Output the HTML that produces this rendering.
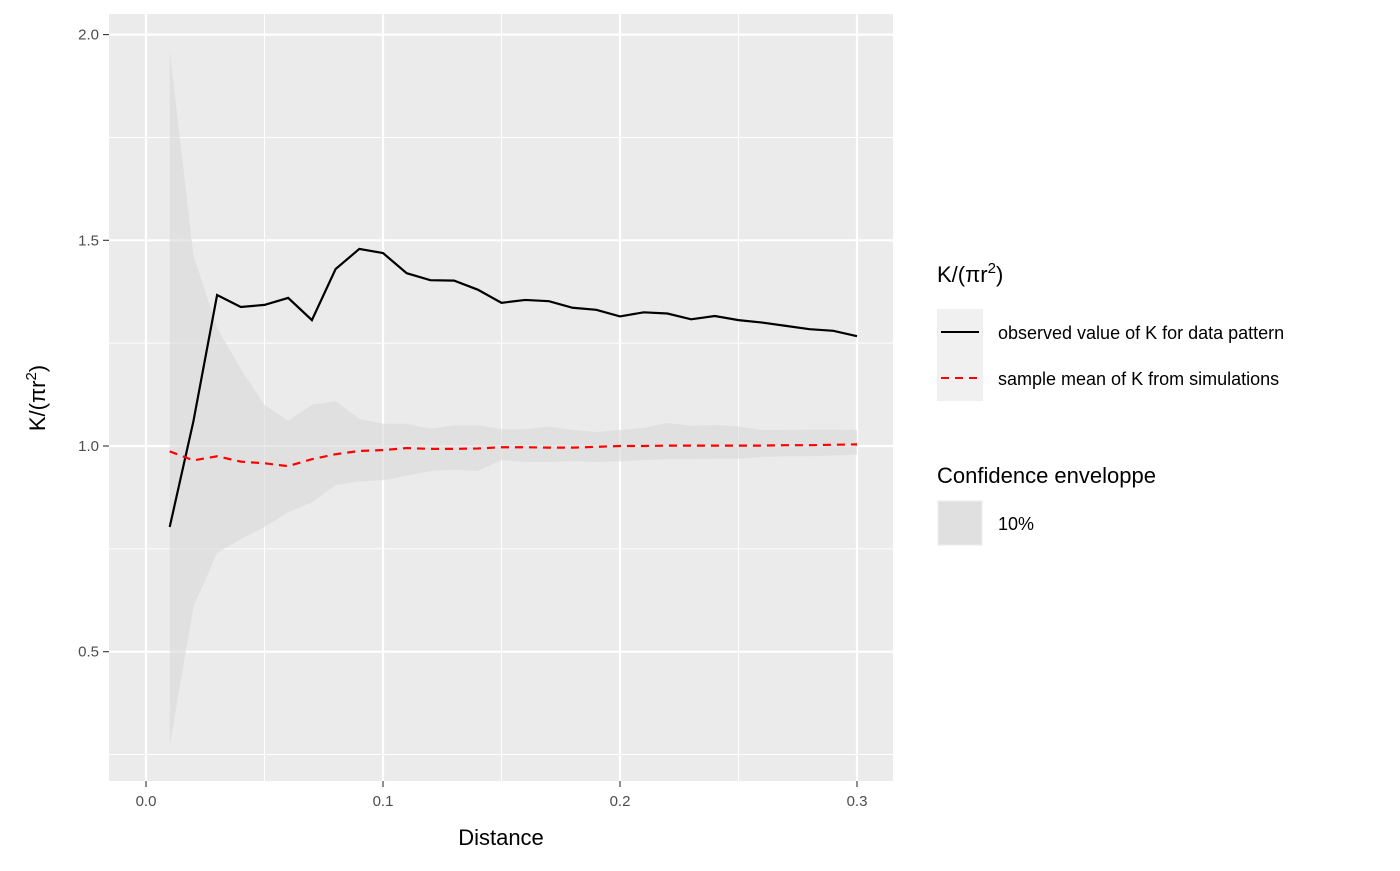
<!DOCTYPE html>
<html><head><meta charset="utf-8"><style>
body{margin:0;background:#fff;font-family:"Liberation Sans",sans-serif;}
svg text{font-family:"Liberation Sans","DejaVu Sans",sans-serif;}
</style></head><body>
<svg id="chart" width="1400" height="866" xmlns="http://www.w3.org/2000/svg">
<rect x="109" y="14" width="784" height="767" fill="#ebebeb"/>
<g id="grid"></g>
<g id="marks"></g>
<g id="axes"></g>
<text x="501" y="845" font-size="22" text-anchor="middle" fill="#000">Distance</text>
<text transform="translate(45,398) rotate(-90)" font-size="22" text-anchor="middle" fill="#000">K/(πr<tspan font-size="15" dy="-9">2</tspan><tspan dy="9">)</tspan></text>
<g>
<text x="937" y="282" font-size="22">K/(πr<tspan font-size="15" dy="-9">2</tspan><tspan dy="9">)</tspan></text>
<rect x="937" y="309" width="46" height="46" fill="#f0f0f0"/>
<rect x="937" y="355" width="46" height="46" fill="#f0f0f0"/>
<line x1="941" y1="332" x2="979" y2="332" stroke="#000" stroke-width="2"/>
<line x1="941" y1="378" x2="979" y2="378" stroke="#f00" stroke-width="2" stroke-dasharray="8,6"/>
<text x="998" y="339" font-size="18">observed value of K for data pattern</text>
<text x="998" y="385" font-size="18">sample mean of K from simulations</text>
<text x="937" y="483" font-size="22">Confidence enveloppe</text>
<rect x="938" y="501" width="44" height="44" fill="#e0e0e0" stroke="#ebebeb"/>
<text x="998" y="530" font-size="18">10%</text>
</g>
</svg>
<script>
const dist=[0.01,0.02,0.03,0.04,0.05,0.06,0.07,0.08,0.09,0.10,0.11,0.12,0.13,0.14,0.15,0.16,0.17,0.18,0.19,0.20,0.21,0.22,0.23,0.24,0.25,0.26,0.27,0.28,0.29,0.30];
const observed=[0.803,1.06,1.367,1.338,1.343,1.36,1.306,1.43,1.479,1.469,1.42,1.403,1.402,1.38,1.348,1.355,1.352,1.336,1.331,1.315,1.325,1.322,1.308,1.316,1.306,1.3,1.292,1.284,1.28,1.267];
const simMean=[0.987,0.965,0.975,0.962,0.958,0.951,0.968,0.98,0.988,0.99,0.995,0.993,0.993,0.994,0.997,0.997,0.996,0.996,0.998,1.0,1.0,1.001,1.001,1.001,1.001,1.001,1.002,1.002,1.003,1.004];
const upper=[1.963,1.464,1.287,1.187,1.10,1.061,1.10,1.109,1.066,1.054,1.054,1.042,1.05,1.05,1.041,1.041,1.047,1.039,1.034,1.039,1.044,1.056,1.049,1.051,1.047,1.039,1.039,1.04,1.04,1.039];
const lower=[0.271,0.609,0.74,0.774,0.803,0.839,0.863,0.905,0.914,0.917,0.928,0.939,0.943,0.939,0.966,0.961,0.961,0.963,0.961,0.963,0.966,0.968,0.968,0.969,0.969,0.973,0.975,0.975,0.977,0.979];
const xTicks=[0,0.1,0.2,0.3];
const xTickLabels=["0.0","0.1","0.2","0.3"];
const yTicks=[0.5,1.0,1.5,2.0];
const yTickLabels=["0.5","1.0","1.5","2.0"];
const xMinor=[0.05,0.15,0.25];
const yMinor=[0.25,0.75,1.25,1.75];

const NS="http://www.w3.org/2000/svg";
const X=v=>146+v*(857-146)/0.3;
const Y=v=>446-(v-1)*411.4;
function mk(tag,attrs,parent){const e=document.createElementNS(NS,tag);for(const k in attrs)e.setAttribute(k,attrs[k]);parent.appendChild(e);return e;}
const grid=document.getElementById('grid'),marks=document.getElementById('marks'),axes=document.getElementById('axes');
xMinor.forEach(v=>{const l=mk('line',{x1:X(v),x2:X(v),y1:14,y2:781,stroke:'#fff','stroke-width':1},grid);

});
yMinor.forEach(v=>{const l=mk('line',{x1:109,x2:893,y1:Y(v),y2:Y(v),stroke:'#fff','stroke-width':1},grid);

});
xTicks.forEach((v,i)=>{const l=mk('line',{x1:X(v),x2:X(v),y1:14,y2:781,stroke:'#fff','stroke-width':2.2},grid);


mk('line',{x1:X(v),x2:X(v),y1:781,y2:787,stroke:'#333','stroke-width':1.1},axes);
const t=mk('text',{x:X(v),y:806,'font-size':15,'text-anchor':'middle',fill:'#4d4d4d'},axes);t.textContent=xTickLabels[i];

});
yTicks.forEach((v,i)=>{const l=mk('line',{x1:109,x2:893,y1:Y(v),y2:Y(v),stroke:'#fff','stroke-width':2.2},grid);


mk('line',{x1:103,x2:109,y1:Y(v),y2:Y(v),stroke:'#333','stroke-width':1.1},axes);
const t=mk('text',{x:99,y:Y(v)+5,'font-size':15,'text-anchor':'end',fill:'#4d4d4d'},axes);t.textContent=yTickLabels[i];

});
let d='';dist.forEach((v,i)=>{d+=(i?'L':'M')+X(v)+','+Y(upper[i]);});
for(let i=dist.length-1;i>=0;i--)d+='L'+X(dist[i])+','+Y(lower[i]);d+='Z';
const rib=mk('path',{d:d,fill:'#d9d9d9','fill-opacity':0.6},marks);


const ob=mk('polyline',{points:dist.map((v,i)=>X(v)+','+Y(observed[i])).join(' '),fill:'none',stroke:'#000','stroke-width':2.2},marks);


const mn=mk('polyline',{points:dist.map((v,i)=>X(v)+','+Y(simMean[i])).join(' '),fill:'none',stroke:'#f00','stroke-width':2.2,'stroke-dasharray':'8,6'},marks);


</script>
</body></html>
